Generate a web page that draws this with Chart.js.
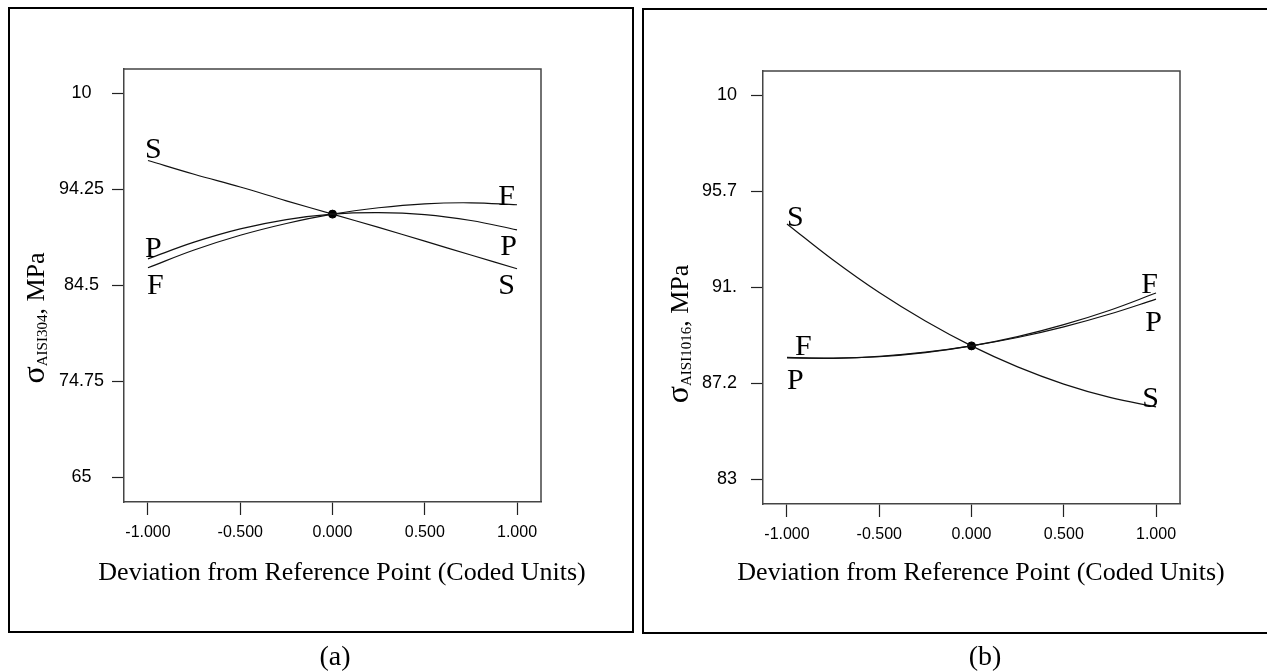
<!DOCTYPE html>
<html>
<head>
<meta charset="utf-8">
<script src="https://cdn.jsdelivr.net/npm/chart.js@4.4.1/dist/chart.umd.min.js"></script>
<style>
    body { margin: 0; background: #fff; width: 1267px; height: 672px; overflow: hidden; position: relative; }
    canvas { position: absolute; top: 0; }
    .frame { position: absolute; border: 2px solid #000; box-sizing: border-box; pointer-events: none; }
    .ytitle { position: absolute; font-family: "Liberation Serif", "Times New Roman", serif; font-size: 26px; white-space: nowrap; transform: translate(-50%, -50%) rotate(-90deg); }
    .ytitle .sig { font-size: 32px; }
    .ytitle sub { font-size: 15px; vertical-align: -3px; }
    .xtitle { position: absolute; font-family: "Liberation Serif", "Times New Roman", serif; font-size: 26px; white-space: nowrap; transform: translate(-50%, -50%); }
    .caption { position: absolute; font-family: "Liberation Serif", "Times New Roman", serif; font-size: 28px; transform: translate(-50%, -50%); }
</style>
</head>
<body>
<canvas id="chartA" width="640" height="672" style="left:0"></canvas>
<canvas id="chartB" width="633" height="672" style="left:634px"></canvas>

<div class="frame" style="left:8px; top:7px; width:626px; height:626px"></div>
<div class="frame" style="left:642px; top:8px; width:640px; height:626px"></div>

<div class="ytitle" style="left:33px; top:318px"><span class="sig">σ</span><sub>AISI304</sub>, MPa</div>
<div class="ytitle" style="left:677px; top:334px"><span class="sig">σ</span><sub>AISI1016</sub>, MPa</div>

<div class="xtitle" style="left:342px; top:572px">Deviation from Reference Point (Coded Units)</div>
<div class="xtitle" style="left:981px; top:572px">Deviation from Reference Point (Coded Units)</div>

<div class="caption" style="left:335px; top:656px">(a)</div>
<div class="caption" style="left:985px; top:656px">(b)</div>

<script>
// 공통 x 값 (coded units)
const xValues = [-1, -0.75, -0.5, -0.25, 0, 0.25, 0.5, 0.75, 1];
const xTickValues = [-1, -0.5, 0, 0.5, 1];
const xTickLabels = ['-1.000', '-0.500', '0.000', '0.500', '1.000'];

// (a) AISI304
const aYTickValues = [65, 74.75, 84.5, 94.25, 104];
const aYTickLabels = ['65', '74.75', '84.5', '94.25', '10'];
const aS = [97.2, 95.8, 94.5, 93.1, 91.75, 90.4, 89.0, 87.6, 86.2];
const aF = [86.3, 88.1, 89.6, 90.8, 91.75, 92.4, 92.8, 92.9, 92.7];
const aP = [87.2, 88.9, 90.25, 91.2, 91.75, 91.9, 91.7, 91.1, 90.15];
const aCenter = 91.75;

// (b) AISI1016
const bYTickValues = [83, 87.25, 91.5, 95.75, 100];
const bYTickLabels = ['83', '87.2', '91.', '95.7', '10'];
const bS = [94.3, 92.7, 91.26, 90.0, 88.9, 87.97, 87.21, 86.62, 86.2];
const bF = [88.39, 88.35, 88.42, 88.6, 88.9, 89.31, 89.84, 90.48, 91.24];
const bP = [88.37, 88.36, 88.44, 88.62, 88.9, 89.27, 89.74, 90.31, 90.97];
const bCenter = 88.9;

// 곡선 끝 글자 (S, F, P)
const endLabelsPlugin = {
    id: 'endLabels',
    afterDatasetsDraw(chart, args, opts) {
        const { ctx } = chart;
        const xs = chart.scales.x, ys = chart.scales.y;
        ctx.save();
        ctx.font = '30px "Liberation Serif", "Times New Roman", serif';
        ctx.fillStyle = '#000';
        ctx.textBaseline = 'alphabetic';
        opts.items.forEach(item => {
            const ds = chart.data.datasets.find(d => d.label === item.series);
            const pt = item.end === 'start' ? ds.data[0] : ds.data[ds.data.length - 1];
            const px = xs.getPixelForValue(pt.x);
            const py = ys.getPixelForValue(pt.y);
            ctx.textAlign = item.end === 'start' ? 'left' : 'right';
            ctx.fillText(item.series, px + item.dx, py + item.dy);
        });
        ctx.restore();
    }
};

// 플롯 상자 (위, 오른쪽 선)
const boxPlugin = {
    id: 'plotBox',
    afterDraw(chart) {
        const { ctx, chartArea: a } = chart;
        ctx.save();
        ctx.strokeStyle = '#444';
        ctx.lineWidth = 1.5;
        ctx.beginPath();
        ctx.moveTo(a.left, a.top);
        ctx.lineTo(a.right, a.top);
        ctx.lineTo(a.right, a.bottom);
        ctx.stroke();
        ctx.restore();
    }
};

function toPoints(values) {
    return values.map((v, i) => ({ x: xValues[i], y: v }));
}

function makePanel(id, cfg) {
    const lineStyle = { borderColor: '#111', borderWidth: 1.2, pointRadius: 0, tension: 0.4, fill: false };
    return new Chart(document.getElementById(id), {
        type: 'line',
        data: {
            datasets: [
                { label: 'S', data: toPoints(cfg.s), ...lineStyle },
                { label: 'F', data: toPoints(cfg.f), ...lineStyle },
                { label: 'P', data: toPoints(cfg.p), ...lineStyle },
                { label: 'center', data: [{ x: 0, y: cfg.center }], showLine: false,
                  pointRadius: 4, backgroundColor: '#000', borderColor: '#000' }
            ]
        },
        options: {
            responsive: false,
            animation: false,
            layout: { padding: cfg.padding },
            plugins: {
                legend: { display: false },
                tooltip: { enabled: false },
                endLabels: { items: cfg.labels }
            },
            scales: {
                x: {
                    type: 'linear',
                    min: -1.13,
                    max: 1.13,
                    afterFit: (axis) => { axis.height = 60; },
                    afterBuildTicks: (axis) => { axis.ticks = xTickValues.map(v => ({ value: v })); },
                    grid: { drawOnChartArea: false, drawTicks: true, tickLength: 13, tickColor: '#222', tickWidth: 1.2 },
                    border: { display: true, color: '#444', width: 1.5 },
                    ticks: {
                        padding: 8,
                        maxRotation: 0,
                        color: '#000',
                        font: { family: '"Liberation Sans", Arial, sans-serif', size: 16 },
                        callback: (v, i) => xTickLabels[i]
                    }
                },
                y: {
                    type: 'linear',
                    min: cfg.yMin,
                    max: cfg.yMax,
                    afterFit: (axis) => { axis.width = cfg.yAxisWidth; },
                    afterBuildTicks: (axis) => { axis.ticks = cfg.yTicks.map(v => ({ value: v })); },
                    grid: { drawOnChartArea: false, drawTicks: true, tickLength: 12, tickColor: '#222', tickWidth: 1.2 },
                    border: { display: true, color: '#444', width: 1.5 },
                    ticks: {
                        padding: cfg.yPad,
                        crossAlign: cfg.yAlign,
                        color: '#000',
                        font: { family: '"Liberation Sans", Arial, sans-serif', size: 18 },
                        callback: (v, i) => cfg.yLabels[i]
                    }
                }
            }
        },
        plugins: [endLabelsPlugin, boxPlugin]
    });
}

makePanel('chartA', {
    s: aS, f: aF, p: aP, center: aCenter,
    yTicks: aYTickValues, yLabels: aYTickLabels,
    yMin: 62.51, yMax: 106.49,
    yAxisWidth: 124, yPad: 8, yAlign: 'center',
    padding: { top: 69, right: 99, bottom: 110, left: 0 },
    labels: [
        { series: 'S', end: 'start', dx: -3, dy: -2 },
        { series: 'P', end: 'start', dx: -3, dy: -2 },
        { series: 'F', end: 'start', dx: -1, dy: 26 },
        { series: 'F', end: 'end', dx: -2, dy: 0 },
        { series: 'P', end: 'end', dx: 0, dy: 25 },
        { series: 'S', end: 'end', dx: -2, dy: 25 }
    ]
});

makePanel('chartB', {
    s: bS, f: bF, p: bP, center: bCenter,
    yTicks: bYTickValues, yLabels: bYTickLabels,
    yMin: 81.9, yMax: 101.07,
    yAxisWidth: 129, yPad: 14, yAlign: 'near',
    padding: { top: 71, right: 87, bottom: 108, left: 0 },
    labels: [
        { series: 'S', end: 'start', dx: 0, dy: 2 },
        { series: 'F', end: 'start', dx: 8, dy: -2 },
        { series: 'P', end: 'start', dx: 0, dy: 31 },
        { series: 'F', end: 'end', dx: 2, dy: 0 },
        { series: 'P', end: 'end', dx: 6, dy: 32 },
        { series: 'S', end: 'end', dx: 3, dy: 0 }
    ]
});
</script>
</body>
</html>
